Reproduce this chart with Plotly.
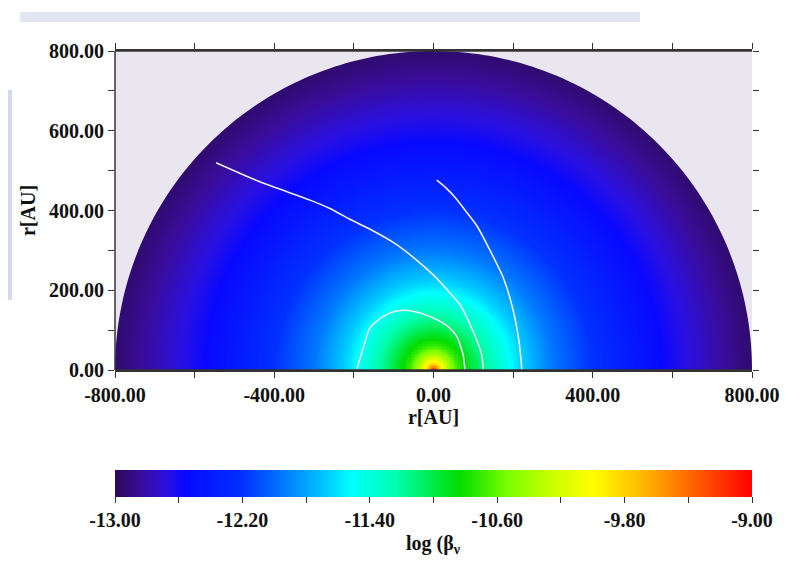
import numpy as np
import plotly.graph_objects as go

# ---------------- data ----------------
# radial profile of log(beta_nu) versus distance from the centre [AU]
R_PROFILE = [0, 5, 10, 18, 28, 40, 60, 85, 115, 160, 220, 300, 400, 500, 620, 720, 800]
V_PROFILE = [-9.0, -9.3, -9.6, -9.9, -10.15, -10.4, -10.7, -10.9, -11.1, -11.35,
             -11.65, -11.95, -12.2, -12.42, -12.65, -12.82, -12.95]
R_MAX = 800

# white contour lines (x, y in AU)
C1_X = [-193, -175, -160, -130, -101, -76, -40, -9, 20, 41, 58, 67, 75, 79]
C1_Y = [0, 60, 105, 132, 146, 150, 145, 134, 120, 105, 85, 63, 35, 0]
C2_X = [-546, -436, -310, -260, -210, -150, -101, -50, 0, 40, 67, 100, 121, 125]
C2_Y = [520, 472, 426, 405, 378, 348, 320, 282, 238, 195, 163, 96, 38, 0]
C3_X = [8, 30, 55, 80, 110, 142, 175, 200, 215, 222]
C3_Y = [476, 458, 432, 400, 360, 300, 232, 150, 70, 0]

# colour scale (value fraction, colour)
CS_POS = [0.0, 0.04, 0.08, 0.11, 0.20, 0.27, 0.33, 0.37, 0.44, 0.54, 0.62, 0.70, 0.75, 0.82, 0.88, 0.94, 1.0]
CS_COL = ['#2a0a5a', '#3a0c98', '#2a10e0', '#0808ff', '#0030ff', '#0080ff', '#00c8ff',
          '#00ffff', '#00ffb0', '#00dd00', '#80ff00', '#d8ff00', '#ffff00', '#ffc000',
          '#ff8000', '#ff4000', '#ff0000']
ZMIN, ZMAX = -13.0, -9.0

X_TICKS = [-800, -600, -400, -200, 0, 200, 400, 600, 800]
X_LABELS = ['-800.00', '', '-400.00', '', '0.00', '', '400.00', '', '800.00']
Y_TICKS = [0, 100, 200, 300, 400, 500, 600, 700, 800]
Y_LABELS = ['0.00', '', '200.00', '', '400.00', '', '600.00', '', '800.00']
CB_TICKS = [-13.0, -12.6, -12.2, -11.8, -11.4, -11.0, -10.6, -10.2, -9.8, -9.4, -9.0]
CB_LABELS = ['-13.00', '', '-12.20', '', '-11.40', '', '-10.60', '', '-9.80', '', '-9.00']

# ---------------- build the field from the radial profile ----------------
gx = np.arange(-R_MAX, R_MAX + 1, 4.0)
gy = np.arange(0, R_MAX + 1, 4.0)
XX, YY = np.meshgrid(gx, gy)
RR = np.hypot(XX, YY)
Z = np.interp(RR, R_PROFILE, V_PROFILE)
Z[RR > R_MAX + 6] = np.nan

# smooth outline of the disc: cover everything outside radius R_MAX
th = np.linspace(np.pi, 0, 181)
pts = ' '.join(f'L{R_MAX*np.cos(t):.2f},{R_MAX*np.sin(t):.2f}' for t in th)
cover_path = f'M{-R_MAX-30},-1 {pts} L{R_MAX+30},-1 L{R_MAX+30},{R_MAX+30} L{-R_MAX-30},{R_MAX+30} Z'

BG = '#e9e6f0'
FONT = dict(family='Liberation Serif, Times New Roman, serif', size=20, color='#111111', weight='bold')
# the page body adds an 8 px offset; margins below compensate for it
OFF = 8

fig = go.Figure()
fig.add_trace(go.Heatmap(
    x=gx, y=gy, z=Z, zmin=ZMIN, zmax=ZMAX,
    colorscale=[[p, c] for p, c in zip(CS_POS, CS_COL)],
    hoverongaps=False,
    colorbar=dict(
        orientation='h', x=0.5, xanchor='center', y=-0.3135, yanchor='top',
        len=637, lenmode='pixels', thickness=27, xpad=0, ypad=0,
        outlinewidth=0, ticks='outside', ticklen=6, tickcolor='#333333',
        tickvals=CB_TICKS, ticktext=CB_LABELS, tickfont=FONT,
    ),
))
for cx, cy in [(C1_X, C1_Y), (C2_X, C2_Y), (C3_X, C3_Y)]:
    fig.add_trace(go.Scatter(x=cx, y=cy, mode='lines',
                             line=dict(color='#eeeeff', width=1.6, shape='spline', smoothing=0.6),
                             showlegend=False, hoverinfo='skip'))

axis_common = dict(showgrid=False, zeroline=False, ticks='outside', ticklen=6, tickwidth=1.3,
                   tickcolor='#333333', tickfont=FONT, linecolor='#333333', linewidth=1.5)
fig.update_xaxes(range=[-800, 800], tickvals=X_TICKS, ticktext=X_LABELS, showline=True, mirror='ticks',
                 title=dict(text='r[AU]', font=FONT, standoff=0), **axis_common)
fig.update_yaxes(range=[0, 800], tickvals=Y_TICKS, ticktext=Y_LABELS, showline=False, mirror='ticks',
                 title=dict(text='r[AU]', font=FONT, standoff=8), **axis_common)

fig.update_layout(
    width=799, height=561,
    margin=dict(l=115 - OFF, r=47 + OFF, t=51 - OFF, b=191 + OFF, autoexpand=False),
    paper_bgcolor='white', plot_bgcolor=BG,
    showlegend=False,
    annotations=[dict(text='log (β<sub>ν</sub>', xref='paper', yref='paper', x=0.5, y=-0.548,
                      xanchor='center', yanchor='middle', showarrow=False, font=FONT)],
    shapes=[
        dict(type='path', path=cover_path, xref='x', yref='y', fillcolor=BG,
             line=dict(width=0), layer='above'),
        dict(type='line', xref='paper', yref='paper', x0=0, x1=0, y0=0, y1=1,
             line=dict(color='#333333', width=1.5)),
        dict(type='line', xref='paper', yref='paper', x0=0, x1=1, y0=1, y1=1,
             line=dict(color='#333333', width=1.5)),
        dict(type='line', xref='paper', yref='paper', x0=0, x1=1, y0=0, y1=0,
             line=dict(color='#333333', width=1.5)),
        # decorative slide artefacts
        dict(type='rect', xref='paper', yref='paper', x0=(20 - 115) / 637, x1=(640 - 115) / 637,
             y0=(370 - 22) / 319, y1=(370 - 12) / 319, line=dict(width=0), fillcolor='#e2e5f2', layer='below'),
        dict(type='rect', xref='paper', yref='paper', x0=(8 - 115) / 637, x1=(12 - 115) / 637,
             y0=(370 - 300) / 319, y1=(370 - 90) / 319, line=dict(width=0), fillcolor='#d3d8ea', layer='below'),
    ],
)

fig.write_html('out.html')
